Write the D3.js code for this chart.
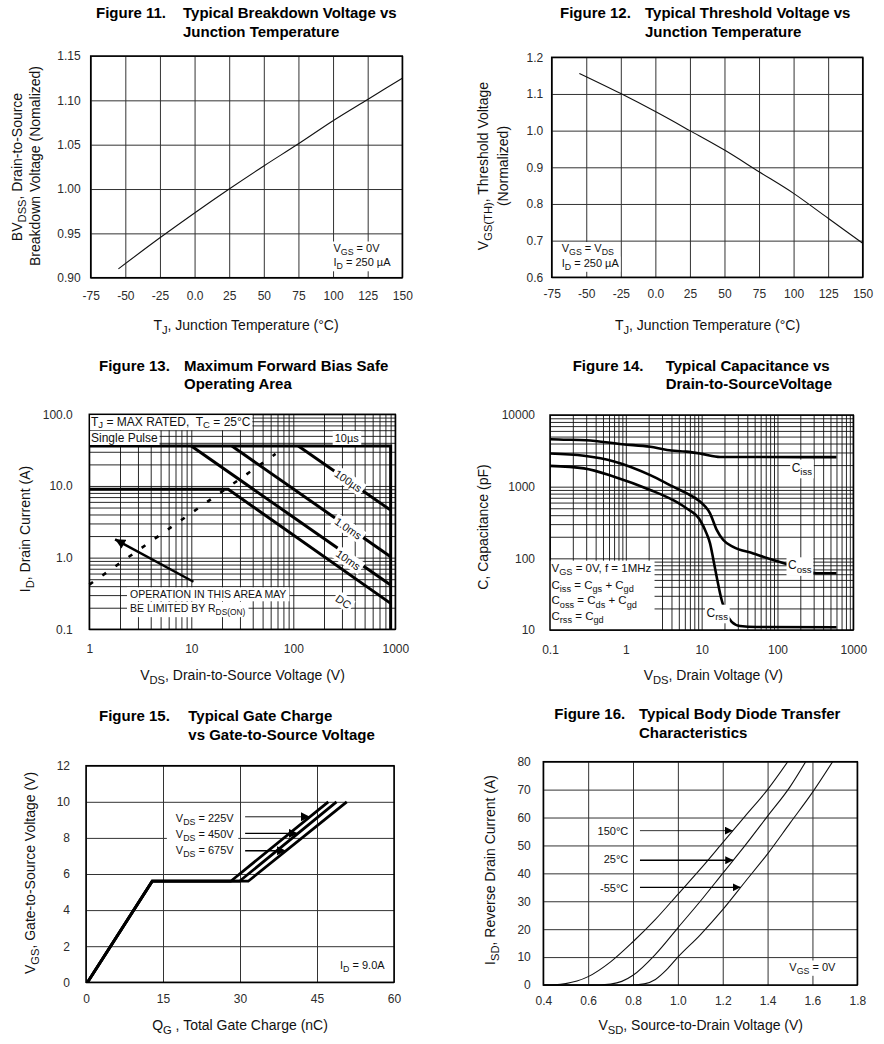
<!DOCTYPE html>
<html><head><meta charset="utf-8">
<script src="https://cdnjs.cloudflare.com/ajax/libs/d3/7.8.5/d3.min.js"></script>
<style>body{margin:0;background:#fff}svg{display:block}</style>
</head><body>
<svg id="c" width="884" height="1044"></svg>
<script>
// ================= DATA =================
// Figure 11 - breakdown voltage vs junction temperature
const f11Temp = [-55, -25, 0, 25, 50, 75, 100, 125, 150];
const f11BVdss = [0.910, 0.945, 0.973, 1.000, 1.026, 1.051, 1.077, 1.101, 1.125];
const f11XTicks = [-75, -50, -25, 0, 25, 50, 75, 100, 125, 150];
const f11XTickLabels = ["-75", "-50", "-25", "0.0", "25", "50", "75", "100", "125", "150"];
const f11YTicks = [0.90, 0.95, 1.00, 1.05, 1.10, 1.15];
const f11YTickLabels = ["0.90", "0.95", "1.00", "1.05", "1.10", "1.15"];
// Figure 12 - threshold voltage vs junction temperature
const f12Temp = [-55, -25, 0, 25, 50, 75, 100, 125, 150];
const f12Vth = [1.156, 1.101, 1.052, 1.000, 0.947, 0.888, 0.829, 0.761, 0.693];
const f12XTicks = [-75, -50, -25, 0, 25, 50, 75, 100, 125, 150];
const f12XTickLabels = ["-75", "-50", "-25", "0.0", "25", "50", "75", "100", "125", "150"];
const f12YTicks = [0.6, 0.7, 0.8, 0.9, 1.0, 1.1, 1.2];
const f12YTickLabels = ["0.6", "0.7", "0.8", "0.9", "1.0", "1.1", "1.2"];
// Figure 13 - safe operating area  [VDS (V), ID (A)]
const f13XTicks = [1, 10, 100, 1000];
const f13XTickLabels = ["1", "10", "100", "1000"];
const f13YTicks = [0.1, 1, 10, 100];
const f13YTickLabels = ["0.1", "1.0", "10.0", "100.0"];
const soa10us = [[1, 36], [900, 36], [900, 0.1]];
const soa100us = [[112, 36], [900, 4.6]];
const soa1ms = [[25, 36], [900, 1.03]];
const soa10ms = [[10, 36], [900, 0.415]];
const soaDC = [[1, 9], [23, 9], [900, 0.23]];
const soaRdsOn = [[1, 0.42], [67, 28]];
const soaArrow = [[10.5, 0.46], [1.79, 1.8]];
const soaLabels = ["10µs", "100µs", "1.0ms", "10ms", "DC"];
// Figure 14 - capacitance vs drain voltage
const f14XTicks = [0.1, 1, 10, 100, 1000];
const f14XTickLabels = ["0.1", "1", "10", "100", "1000"];
const f14YTicks = [10, 100, 1000, 10000];
const f14YTickLabels = ["10", "100", "1000", "10000"];
const cissV = [0.1, 0.13, 0.3, 0.9, 2.1, 3.5, 6.3, 10, 17.5, 600];
const cissC = [4600, 4550, 4450, 3900, 3600, 3250, 3080, 2870, 2600, 2580];
const cossV = [0.1, 0.28, 0.7, 2.1, 4.2, 6.3, 9.5, 12.9, 15.8, 19.3, 26, 48, 88, 139, 330, 600];
const cossC = [2900, 2700, 2250, 1450, 1000, 810, 620, 425, 250, 180, 145, 117, 95, 82, 62, 62];
const crssV = [0.1, 0.28, 0.7, 2.1, 4.2, 6.3, 9.5, 11.6, 12.9, 14.3, 15.8, 18.4, 19.3, 24.9, 32, 53, 600];
const crssC = [1950, 1800, 1380, 900, 650, 500, 343, 223, 162, 95, 55, 26, 22, 13, 11.4, 11, 10.9];
// Figure 15 - gate charge
const f15XTicks = [0, 15, 30, 45, 60];
const f15YTicks = [0, 2, 4, 6, 8, 10, 12];
const gcVgs = [0, 5.6, 5.6, 10];
const gcQ225 = [0.3, 12.9, 28.2, 47.2];
const gcQ450 = [0.3, 12.9, 29.9, 48.8];
const gcQ675 = [0.3, 12.9, 31.6, 50.8];
const gcSeriesNames = ["V_{DS} = 225V", "V_{DS} = 450V", "V_{DS} = 675V"];
// Figure 16 - body diode transfer
const f16XTicks = [0.4, 0.6, 0.8, 1.0, 1.2, 1.4, 1.6, 1.8];
const f16XTickLabels = ["0.4", "0.6", "0.8", "1.0", "1.2", "1.4", "1.6", "1.8"];
const f16YTicks = [0, 10, 20, 30, 40, 50, 60, 70, 80];
const vsd150 = [0.4, 0.45, 0.5, 0.55, 0.6, 0.7, 0.8, 0.9, 1.0, 1.1, 1.2, 1.3, 1.4, 1.49];
const isd150 = [0, 0.1, 0.5, 1.4, 3, 8.3, 15.5, 23.5, 32.5, 41.5, 51, 60.5, 70, 80];
const vsd25 = [0.4, 0.65, 0.7, 0.75, 0.8, 0.9, 1.0, 1.1, 1.2, 1.3, 1.4, 1.5, 1.57];
const isd25 = [0, 0, 0.3, 1.3, 3.5, 11, 20.5, 30, 40, 50, 60.5, 71, 80];
const vsdM55 = [0.4, 0.8, 0.85, 0.9, 0.95, 1.0, 1.1, 1.2, 1.3, 1.4, 1.5, 1.6, 1.69];
const isdM55 = [0, 0, 0.4, 2, 5.5, 10, 18, 27, 37, 47, 58, 69, 80];
const f16SeriesNames = ["150°C", "25°C", "-55°C"];

// ================= HELPERS =================
const FONT = '"Liberation Sans", Arial, Helvetica, sans-serif';
const svg = d3.select('#c');
svg.append('rect').attr('width', 884).attr('height', 1044).attr('fill', '#fff');
const defs = svg.append('defs');
function marker(id, w, h) {
  defs.append('marker').attr('id', id).attr('viewBox', '0 0 10 10').attr('refX', 10).attr('refY', 5)
    .attr('markerWidth', w).attr('markerHeight', h).attr('markerUnits', 'userSpaceOnUse').attr('orient', 'auto')
    .append('path').attr('d', 'M0,0L10,5L0,10Z').attr('fill', '#000');
}
marker('ahBig', 11, 10);
marker('ahMid', 9, 9);
marker('ahSmall', 8, 8);

function rich(t, str, fs, subShift) {
  const re = /([_^])\{([^}]*)\}/g;
  let last = 0, m; const parts = [];
  while ((m = re.exec(str))) {
    if (m.index > last) parts.push({s: str.slice(last, m.index), k: ''});
    parts.push({s: m[2], k: m[1]}); last = re.lastIndex;
  }
  if (last < str.length) parts.push({s: str.slice(last), k: ''});
  let cur = 0;
  const ss = subShift == null ? 0.3 : subShift;
  parts.forEach(p => {
    const target = p.k === '_' ? ss * fs : p.k === '^' ? -0.4 * fs : 0;
    const ts = t.append('tspan').text(p.s);
    if (target !== cur) ts.attr('dy', target - cur);
    if (p.k) ts.attr('font-size', fs * 0.8);
    cur = target;
  });
  return t;
}
function txt(g, x, y, str, o = {}) {
  const fs = o.fs || 12;
  const t = g.append('text').attr('x', x).attr('y', y).attr('font-size', fs)
    .attr('font-family', FONT).attr('fill', o.fill || '#111')
    .attr('font-weight', o.bold ? 'bold' : null)
    .attr('text-anchor', o.anchor || 'start');
  if (o.rotate) t.attr('transform', `rotate(${o.rotate},${x},${y})`);
  rich(t, str, fs, o.subShift);
  return t;
}
function haloed(g, x, y, str, o = {}) {
  const gg = g.append('g').attr('transform', `translate(${x},${y})` + (o.rotate ? ` rotate(${o.rotate})` : ''));
  const rect = gg.append('rect').attr('fill', '#fff');
  const t = txt(gg, 0, o.dy || 0, str, Object.assign({}, o, {rotate: 0}));
  const b = t.node().getBBox();
  const px = o.padX == null ? 2 : o.padX, py = o.padY == null ? 1 : o.padY;
  rect.attr('x', b.x - px).attr('y', b.y - py).attr('width', b.width + 2 * px).attr('height', b.height + 2 * py);
  return gg;
}
function logGrid(lo, hi) {
  const out = [];
  for (let e = Math.round(Math.log10(lo)); e < Math.round(Math.log10(hi)); e++)
    for (let k = 1; k < 10; k++) out.push(k * Math.pow(10, e));
  out.push(hi);
  return out;
}
function labelFor(ticks, labels) {
  return d => {
    for (let i = 0; i < ticks.length; i++) if (Math.abs(ticks[i] - d) < 1e-9 * Math.max(1, Math.abs(d))) return labels[i];
    return '';
  };
}
function panel(P, x, y, o) {
  const g = svg.append('g');
  const w = P.r - P.l, h = P.b - P.t;
  const gx = g.append('g').attr('transform', `translate(0,${P.b})`)
    .call(d3.axisBottom(x).tickValues(o.xGrid).tickSize(-h).tickPadding(o.xPad).tickFormat(o.xFmt));
  const gy = g.append('g').attr('transform', `translate(${P.l},0)`)
    .call(d3.axisLeft(y).tickValues(o.yGrid).tickSize(-w).tickPadding(o.yPad).tickFormat(o.yFmt));
  for (const a of [gx, gy]) {
    a.select('.domain').remove();
    a.selectAll('.tick line').attr('stroke', o.gridColor || '#333').attr('stroke-width', o.gridW || 1);
    a.selectAll('.tick text').attr('font-size', o.tickFs || 12).attr('font-family', FONT).attr('fill', '#2b2b2b');
  }
  const plot = g.append('g');
  const over = g.append('g');
  g.append('rect').attr('x', P.l).attr('y', P.t).attr('width', w).attr('height', h)
    .attr('fill', 'none').attr('stroke', '#000').attr('stroke-width', 1.5);
  return {g, plot, over};
}
function title(xFig, xText, y1, y2, fig, l1, l2) {
  txt(svg, xFig, y1, fig, {fs: 15, bold: true, fill: '#000'});
  txt(svg, xText, y1, l1, {fs: 15, bold: true, fill: '#000'});
  txt(svg, xText, y2, l2, {fs: 15, bold: true, fill: '#000'});
}
function xAtY(xs, ys, yv) {
  for (let i = 1; i < xs.length; i++) {
    if (ys[i] !== ys[i - 1] && (ys[i - 1] - yv) * (ys[i] - yv) <= 0)
      return xs[i - 1] + (yv - ys[i - 1]) / (ys[i] - ys[i - 1]) * (xs[i] - xs[i - 1]);
  }
  return xs[xs.length - 1];
}
const zip = (a, b) => a.map((v, i) => [v, b[i]]);

// ================= FIGURE 11 =================
{
  const P = {l: 90.7, r: 402.3, t: 56, b: 277.7};
  const x = d3.scaleLinear().domain([-75, 150]).range([P.l, P.r]);
  const y = d3.scaleLinear().domain([0.90, 1.15]).range([P.b, P.t]);
  const p = panel(P, x, y, {xGrid: f11XTicks, yGrid: f11YTicks, xPad: 14, yPad: 10,
    xFmt: labelFor(f11XTicks, f11XTickLabels), yFmt: labelFor(f11YTicks, f11YTickLabels)});
  p.plot.append('path').datum(zip(f11Temp, f11BVdss))
    .attr('d', d3.line().x(d => x(d[0])).y(d => y(d[1])).curve(d3.curveMonotoneX))
    .attr('fill', 'none').attr('stroke', '#111').attr('stroke-width', 1.1);
  haloed(p.over, 333.5, 251.5, 'V_{GS} = 0V', {fs: 11, padX: 1, padY: 0});
  haloed(p.over, 333.5, 266, 'I_{D} = 250 µA', {fs: 11, padX: 1, padY: 0});
  title(96, 183, 18.3, 37.3, 'Figure 11.', 'Typical Breakdown Voltage vs', 'Junction Temperature');
  txt(svg, 246, 330, 'T_{J}, Junction Temperature (°C)', {fs: 14, anchor: 'middle'});
  txt(svg, 21.5, 167, 'BV_{DSS}, Drain-to-Source', {fs: 14, anchor: 'middle', rotate: -90});
  txt(svg, 39.5, 166, 'Breakdown Voltage (Nomalized)', {fs: 14, anchor: 'middle', rotate: -90});
}

// ================= FIGURE 12 =================
{
  const P = {l: 551.7, r: 862.7, t: 57.3, b: 277.3};
  const x = d3.scaleLinear().domain([-75, 150]).range([P.l, P.r]);
  const y = d3.scaleLinear().domain([0.6, 1.2]).range([P.b, P.t]);
  const p = panel(P, x, y, {xGrid: f12XTicks, yGrid: f12YTicks, xPad: 12.5, yPad: 8.5,
    xFmt: labelFor(f12XTicks, f12XTickLabels), yFmt: labelFor(f12YTicks, f12YTickLabels)});
  p.plot.append('path').datum(zip(f12Temp, f12Vth))
    .attr('d', d3.line().x(d => x(d[0])).y(d => y(d[1])).curve(d3.curveMonotoneX))
    .attr('fill', 'none').attr('stroke', '#111').attr('stroke-width', 1.1);
  haloed(p.over, 561.7, 252, 'V_{GS} = V_{DS}', {fs: 11, padX: 1, padY: 0});
  haloed(p.over, 561.7, 266.5, 'I_{D} = 250 µA', {fs: 11, padX: 1, padY: 0});
  title(560, 645, 17.5, 36.7, 'Figure 12.', 'Typical Threshold Voltage vs', 'Junction Temperature');
  txt(svg, 707.5, 330, 'T_{J}, Junction Temperature (°C)', {fs: 14, anchor: 'middle'});
  txt(svg, 488, 166, 'V_{GS(TH)}, Threshold Voltage', {fs: 14, anchor: 'middle', rotate: -90});
  txt(svg, 508, 166, '(Normalized)', {fs: 14, anchor: 'middle', rotate: -90});
}

// ================= FIGURE 13 =================
{
  const P = {l: 89.3, r: 395.3, t: 414.3, b: 629.3};
  const x = d3.scaleLog().domain([1, 1000]).range([P.l, P.r]);
  const y = d3.scaleLog().domain([0.1, 100]).range([P.b, P.t]);
  const p = panel(P, x, y, {xGrid: logGrid(1, 1000), yGrid: logGrid(0.1, 100), xPad: 15.5, yPad: 16.5,
    gridColor: '#111', gridW: 0.9,
    xFmt: labelFor(f13XTicks, f13XTickLabels), yFmt: labelFor(f13YTicks, f13YTickLabels)});
  const ln = d3.line().x(d => x(d[0])).y(d => y(d[1]));
  [soa10us, soa100us, soa1ms, soa10ms, soaDC].forEach(s => {
    p.plot.append('path').datum(s).attr('d', ln).attr('fill', 'none')
      .attr('stroke', '#000').attr('stroke-width', 3).attr('stroke-linejoin', 'miter');
  });
  p.plot.append('path').datum(soaRdsOn).attr('d', ln).attr('fill', 'none').attr('stroke', '#000')
    .attr('stroke-width', 2.6).attr('stroke-dasharray', '4.5,11.5');
  p.plot.append('path').datum(soaArrow).attr('d', ln).attr('fill', 'none').attr('stroke', '#000')
    .attr('stroke-width', 2.4).attr('marker-end', 'url(#ahBig)');
  // pulse labels (data-anchored)
  const labPos = [[334, 46.7], [346, 11.8], [346, 2.56], [346, 0.93], [310, 0.243]];
  soaLabels.forEach((s, i) => {
    haloed(p.over, x(labPos[i][0]), y(labPos[i][1]), s,
      {fs: 11, anchor: 'middle', dy: 4, rotate: i === 0 ? 0 : 34.5, padX: 2, padY: 1});
  });
  haloed(p.over, 91, 425.5, 'T_{J} = MAX RATED,\u00A0 T_{C} = 25°C', {fs: 12, padX: 1.5, padY: 0, subShift: 0.22});
  haloed(p.over, 91, 442, 'Single Pulse', {fs: 12, padX: 1.5, padY: 0});
  haloed(p.over, 130, 598.3, 'OPERATION IN THIS AREA MAY', {fs: 10.5, padX: 3, padY: 1});
  haloed(p.over, 130, 612, 'BE LIMITED BY R_{DS(ON)}', {fs: 10.5, padX: 3, padY: 0});
  title(99, 184, 370.7, 389.3, 'Figure 13.', 'Maximum Forward Bias Safe', 'Operating Area');
  txt(svg, 242.5, 680, 'V_{DS}, Drain-to-Source Voltage (V)', {fs: 14, anchor: 'middle'});
  txt(svg, 29.5, 529, 'I_{D}, Drain Current (A)', {fs: 14, anchor: 'middle', rotate: -90});
}

// ================= FIGURE 14 =================
{
  const P = {l: 550, r: 853.3, t: 415, b: 630};
  const x = d3.scaleLog().domain([0.1, 1000]).range([P.l, P.r]);
  const y = d3.scaleLog().domain([10, 10000]).range([P.b, P.t]);
  const p = panel(P, x, y, {xGrid: logGrid(0.1, 1000), yGrid: logGrid(10, 10000), xPad: 15.5, yPad: 15,
    gridColor: '#111', gridW: 0.9,
    xFmt: labelFor(f14XTicks, f14XTickLabels), yFmt: labelFor(f14YTicks, f14YTickLabels)});
  const ln = d3.line().x(d => x(d[0])).y(d => y(d[1])).curve(d3.curveMonotoneX);
  [[cissV, cissC], [cossV, cossC], [crssV, crssC]].forEach(([vs, cs]) => {
    p.plot.append('path').datum(zip(vs, cs)).attr('d', ln).attr('fill', 'none')
      .attr('stroke', '#000').attr('stroke-width', 2.6);
  });
  haloed(p.over, 791.7, 471.7, 'C_{iss}', {fs: 12, padX: 1.5, padY: 1});
  haloed(p.over, 788, 569.3, 'C_{oss}', {fs: 12, padX: 1.5, padY: 1});
  haloed(p.over, 706.5, 616.7, 'C_{rss}', {fs: 12, padX: 1.5, padY: 1});
  // legend block
  const lg = p.over.append('g');
  const lr = lg.append('rect').attr('fill', '#fff');
  const rows = ['V_{GS} = 0V, f = 1MHz', 'C_{iss} = C_{gs} + C_{gd}', 'C_{oss} = C_{ds} + C_{gd}', 'C_{rss} = C_{gd}'];
  const rowY = [571.7, 588.8, 604.3, 619.5];
  rows.forEach((r, i) => txt(lg, 551.5, rowY[i], r, {fs: 11.5}));
  const b = lg.node().getBBox();
  lr.attr('x', P.l).attr('y', b.y - 1).attr('width', b.x + b.width - P.l + 3).attr('height', P.b - b.y + 1);
  title(572.7, 665.7, 370.7, 389.3, 'Figure 14.', 'Typical Capacitance vs', 'Drain-to-SourceVoltage');
  txt(svg, 713.3, 680, 'V_{DS}, Drain Voltage (V)', {fs: 14, anchor: 'middle'});
  txt(svg, 488, 527, 'C, Capacitance (pF)', {fs: 14, anchor: 'middle', rotate: -90});
}

// ================= FIGURE 15 =================
{
  const P = {l: 86, r: 394, t: 765.7, b: 982.3};
  const x = d3.scaleLinear().domain([0, 60]).range([P.l, P.r]);
  const y = d3.scaleLinear().domain([0, 12]).range([P.b, P.t]);
  const p = panel(P, x, y, {xGrid: f15XTicks, yGrid: f15YTicks, xPad: 12.5, yPad: 16,
    xFmt: d => String(d), yFmt: d => String(d)});
  const ln = d3.line().x(d => x(d[0])).y(d => y(d[1]));
  const series = [gcQ225, gcQ450, gcQ675];
  series.forEach(qs => {
    p.plot.append('path').datum(zip(qs, gcVgs)).attr('d', ln).attr('fill', 'none')
      .attr('stroke', '#000').attr('stroke-width', 2.8).attr('stroke-linejoin', 'miter');
  });
  // labels + arrows
  const lb = p.over.append('g');
  const lrect = lb.append('rect').attr('fill', '#fff');
  const arrowV = [9.17, 8.25, 7.29];
  const textY = [822, 837.5, 853.5];
  gcSeriesNames.forEach((s, i) => txt(lb, x(17.5), textY[i], s, {fs: 11}));
  const bb = lb.node().getBBox();
  lrect.attr('x', bb.x - 9).attr('y', bb.y - 5).attr('width', bb.width + 13).attr('height', bb.height + 9);
  series.forEach((qs, i) => {
    const qt = xAtY(qs, gcVgs, arrowV[i]);
    p.over.append('path').datum([[31.0, arrowV[i]], [qt, arrowV[i]]]).attr('d', ln)
      .attr('stroke', '#000').attr('stroke-width', i === 0 ? 0.9 : 1.4).attr('marker-end', 'url(#ahMid)');
  });
  haloed(p.over, 340, 969, 'I_{D} = 9.0A', {fs: 11, padX: 1, padY: 0});
  title(99, 188.3, 720.7, 740, 'Figure 15.', 'Typical Gate Charge', 'vs Gate-to-Source Voltage');
  txt(svg, 240, 1030, 'Q_{G} , Total Gate Charge (nC)', {fs: 14, anchor: 'middle'});
  txt(svg, 34.5, 873, 'V_{GS},  Gate-to-Source Voltage (V)', {fs: 14, anchor: 'middle', rotate: -90});
}

// ================= FIGURE 16 =================
{
  const P = {l: 543.3, r: 857.3, t: 761.7, b: 985};
  const x = d3.scaleLinear().domain([0.4, 1.8]).range([P.l, P.r]);
  const y = d3.scaleLinear().domain([0, 80]).range([P.b, P.t]);
  const p = panel(P, x, y, {xGrid: f16XTicks, yGrid: f16YTicks, xPad: 11, yPad: 12.5,
    xFmt: labelFor(f16XTicks, f16XTickLabels), yFmt: d => String(d)});
  const ln = d3.line().x(d => x(d[0])).y(d => y(d[1])).curve(d3.curveMonotoneX);
  const curves = [[vsd150, isd150], [vsd25, isd25], [vsdM55, isdM55]];
  curves.forEach(([vs, is]) => {
    p.plot.append('path').datum(zip(vs, is)).attr('d', ln).attr('fill', 'none')
      .attr('stroke', '#111').attr('stroke-width', 1.1);
  });
  const arrowI = [55.3, 44.7, 35.0];
  const lblY = [834.5, 863.2, 891.5];
  f16SeriesNames.forEach((s, i) => {
    haloed(p.over, x(0.779), lblY[i], s, {fs: 11, anchor: 'end', padX: 3, padY: 2});
    const vt = xAtY(curves[i][0], curves[i][1], arrowI[i]);
    p.over.append('path').datum([[0.831, arrowI[i]], [vt, arrowI[i]]]).attr('d', d3.line().x(d => x(d[0])).y(d => y(d[1])))
      .attr('stroke', '#000').attr('stroke-width', i === 0 ? 0.8 : 1.3).attr('marker-end', 'url(#ahSmall)');
  });
  haloed(p.over, 789.3, 970.5, 'V_{GS} = 0V', {fs: 11, padX: 1, padY: 0});
  title(554.3, 639, 719.3, 738.3, 'Figure 16.', 'Typical Body Diode Transfer', 'Characteristics');
  txt(svg, 700.7, 1030, 'V_{SD}, Source-to-Drain Voltage (V)', {fs: 14, anchor: 'middle'});
  txt(svg, 494.5, 870, 'I_{SD}, Reverse Drain Current (A)', {fs: 14, anchor: 'middle', rotate: -90});
}
</script></body></html>
